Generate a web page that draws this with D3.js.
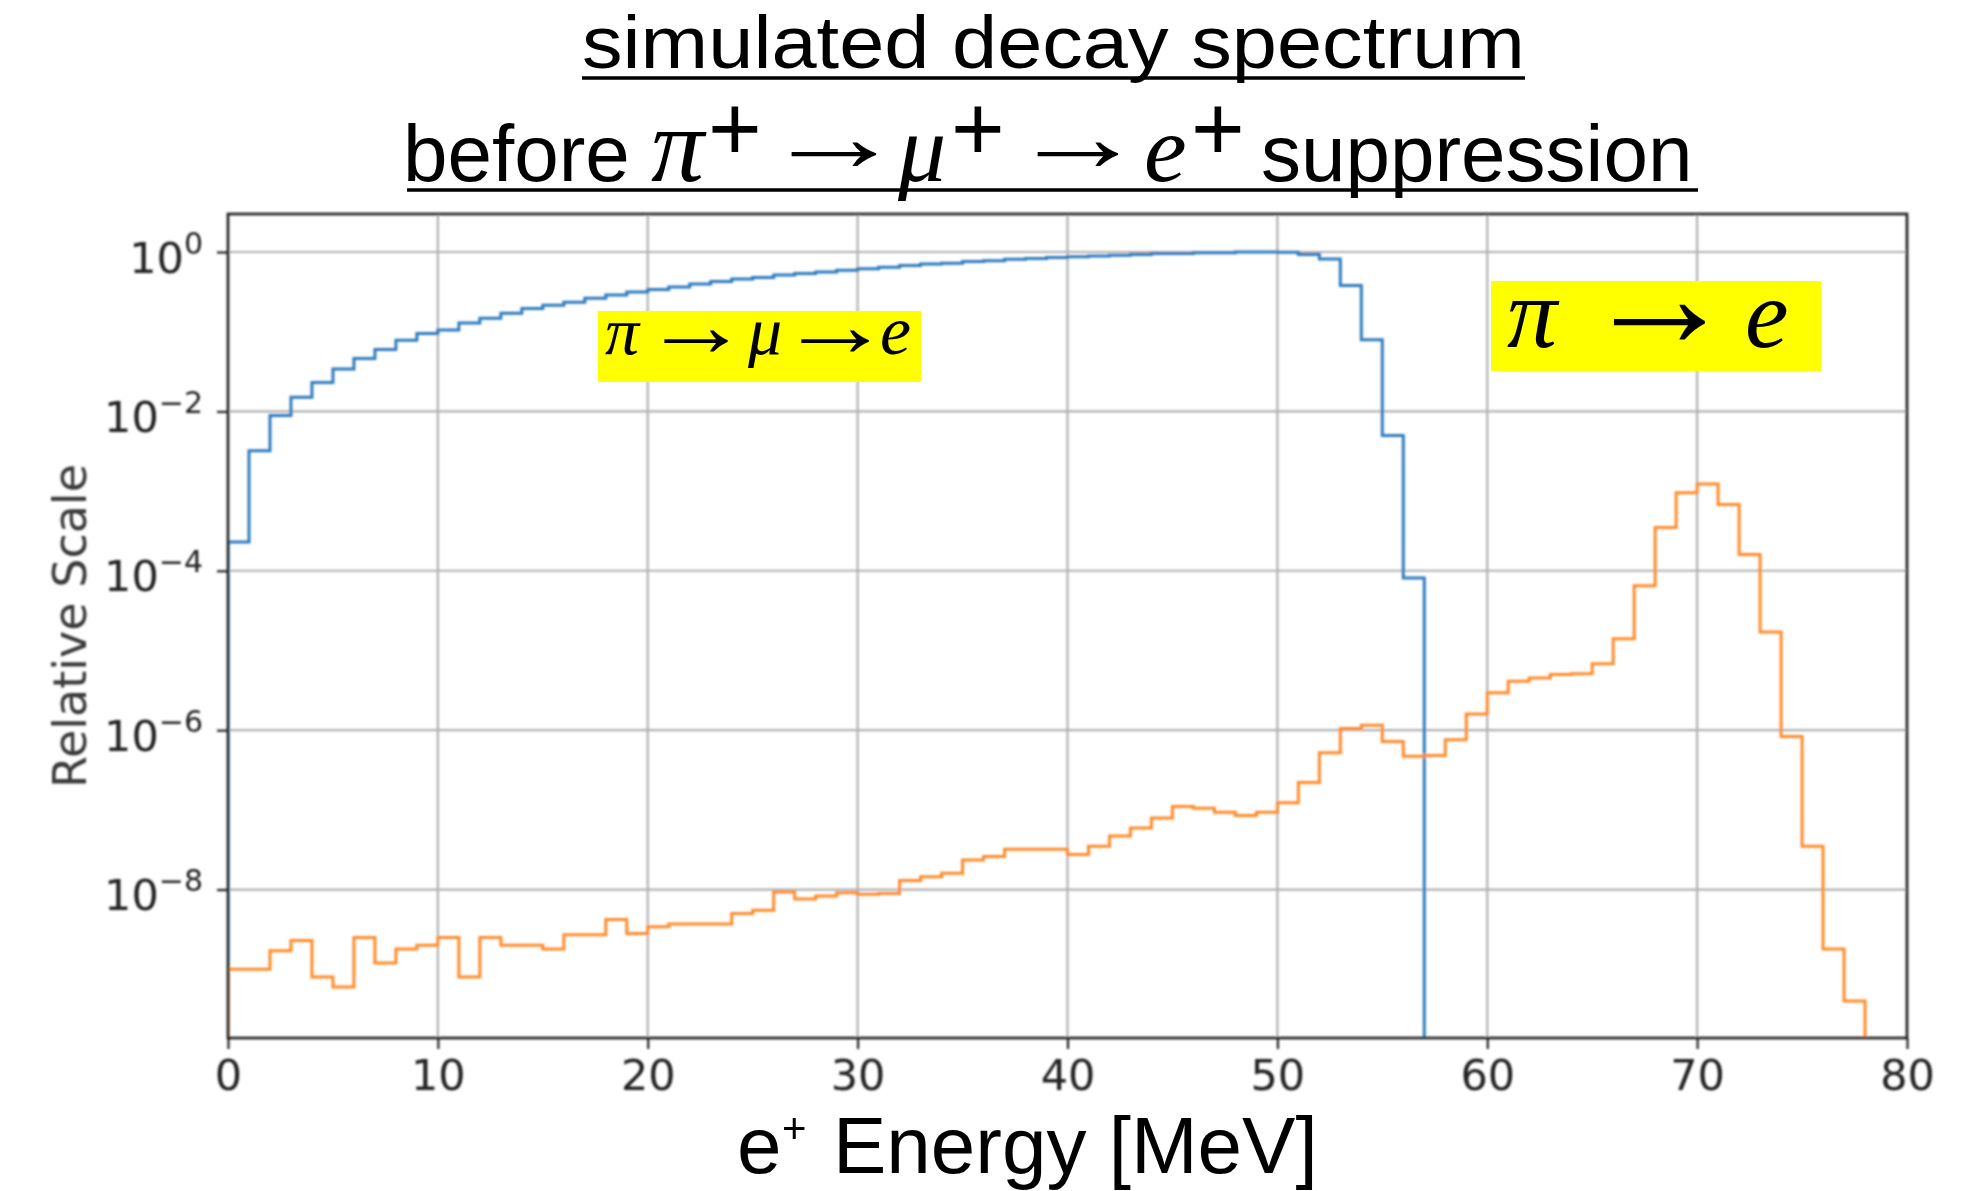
<!DOCTYPE html>
<html>
<head>
<meta charset="utf-8">
<script src="https://cdn.jsdelivr.net/npm/d3@7"></script>
<style>
  html, body { margin: 0; padding: 0; background: #ffffff; }
  svg { display: block; }
</style>
</head>
<body>
<svg id="chart" width="1983" height="1191"></svg>
<script>
// ---- data -------------------------------------------------------------
// 1 MeV wide bins starting at 0 MeV; values are relative counts per bin.
const binWidth = 1;

// pi -> mu -> e (Michel) spectrum, bins 0..56 MeV
const piMuEValues = [
  2.3e-4, 3.2e-3, 8.9e-3, 0.015, 0.023, 0.034, 0.046, 0.060, 0.078, 0.095,
  0.105, 0.129, 0.148, 0.170, 0.195, 0.214, 0.234, 0.263, 0.288, 0.316,
  0.339, 0.363, 0.398, 0.427, 0.457, 0.479, 0.513, 0.537, 0.562, 0.589,
  0.617, 0.646, 0.676, 0.708, 0.724, 0.759, 0.776, 0.813, 0.832, 0.851,
  0.871, 0.891, 0.912, 0.933, 0.955, 0.955, 0.977, 0.977, 1.0, 1.0,
  0.995, 0.93, 0.82, 0.38, 0.079, 0.005, 8.1e-5
];

// pi -> e spectrum, bins 0..77 MeV
const piEValues = [
  1.0e-9, 1.0e-9, 1.7e-9, 2.3e-9, 8.0e-10, 6.0e-10, 2.5e-9, 1.2e-9, 1.8e-9, 2.0e-9,
  2.5e-9, 8.0e-10, 2.5e-9, 2.0e-9, 2.0e-9, 1.8e-9, 2.7e-9, 2.7e-9, 4.2e-9, 2.8e-9,
  3.4e-9, 3.7e-9, 3.7e-9, 3.7e-9, 5.0e-9, 5.5e-9, 9.3e-9, 7.6e-9, 8.3e-9, 9.1e-9,
  8.7e-9, 8.9e-9, 1.3e-8, 1.45e-8, 1.6e-8, 2.35e-8, 2.6e-8, 3.2e-8, 3.2e-8, 3.2e-8,
  2.75e-8, 3.5e-8, 4.7e-8, 5.9e-8, 7.9e-8, 1.1e-7, 1.05e-7, 9.3e-8, 8.5e-8, 9.3e-8,
  1.23e-7, 2.2e-7, 5.2e-7, 1.05e-6, 1.15e-6, 7.2e-7, 4.7e-7, 4.8e-7, 7.6e-7, 1.6e-6,
  2.95e-6, 4.1e-6, 4.5e-6, 5.0e-6, 5.1e-6, 6.8e-6, 1.4e-5, 6.5e-5, 3.5e-4, 9.5e-4,
  1.23e-3, 6.8e-4, 1.6e-4, 1.7e-5, 8.3e-7, 3.5e-8, 1.8e-9, 4.0e-10
];

const xTickValues = [0, 10, 20, 30, 40, 50, 60, 70, 80];
const yTickValues = [1, 1e-2, 1e-4, 1e-6, 1e-8];

const titleLine1 = "simulated decay spectrum";
const yAxisLabel = "Relative Scale";

// ---- layout -----------------------------------------------------------
const plot = { left: 228, right: 1907, top: 214, bottom: 1038 };
const SANS = "'Liberation Sans', Arial, Helvetica, sans-serif";
const SERIF = "'Liberation Serif', 'Times New Roman', 'DejaVu Serif', serif";
const MPL = "'DejaVu Sans', sans-serif";

const svg = d3.select("#chart");

const defs = svg.append("defs");
defs.append("clipPath").attr("id", "plot-clip")
  .append("rect")
  .attr("x", plot.left).attr("y", plot.top)
  .attr("width", plot.right - plot.left).attr("height", plot.bottom - plot.top);
defs.append("filter").attr("id", "soft")
  .attr("x", "-5%").attr("y", "-5%").attr("width", "110%").attr("height", "110%")
  .append("feGaussianBlur").attr("stdDeviation", 0.8);

const x = d3.scaleLinear().domain([0, 80]).range([plot.left, plot.right]);
const y = d3.scaleLog()
  .domain([Math.pow(10, -9.863), Math.pow(10, 0.477)])
  .range([plot.bottom, plot.top]);

const chart = svg.append("g").attr("filter", "url(#soft)");

// grid
chart.append("g").selectAll("line").data(xTickValues).join("line")
  .attr("x1", d => x(d)).attr("x2", d => x(d))
  .attr("y1", plot.top).attr("y2", plot.bottom)
  .attr("stroke", "#b0b0b0").attr("stroke-width", 2.2);
chart.append("g").selectAll("line").data(yTickValues).join("line")
  .attr("x1", plot.left).attr("x2", plot.right)
  .attr("y1", d => y(d)).attr("y2", d => y(d))
  .attr("stroke", "#b0b0b0").attr("stroke-width", 2.2);

// step histograms (outline drawn down to the axis floor at both ends)
function stepPoints(values) {
  const floor = y.domain()[0] / 10;
  const pts = [[0, floor]];
  values.forEach((v, i) => pts.push([i * binWidth, v]));
  pts.push([values.length * binWidth, values[values.length - 1]]);
  pts.push([values.length * binWidth, floor]);
  return pts;
}
const stepLine = d3.line()
  .x(d => x(d[0]))
  .y(d => y(d[1]))
  .curve(d3.curveStepAfter);

const curves = chart.append("g").attr("clip-path", "url(#plot-clip)");
curves.append("path")
  .attr("d", stepLine(stepPoints(piMuEValues)))
  .attr("fill", "none").attr("stroke", "#2f7bbf").attr("stroke-width", 3);
curves.append("path")
  .attr("d", stepLine(stepPoints(piEValues)))
  .attr("fill", "none").attr("stroke", "#ff8a2a").attr("stroke-width", 3);

// axes
const xAxis = d3.axisBottom(x).tickValues(xTickValues).tickSizeInner(11).tickSizeOuter(0)
  .tickFormat(d3.format("d"));
const gx = chart.append("g").attr("transform", `translate(0,${plot.bottom})`).call(xAxis);
gx.select(".domain").remove();
gx.selectAll(".tick line").attr("stroke", "#222").attr("stroke-width", 2.2);
gx.selectAll(".tick text")
  .attr("y", 52).attr("dy", 0)
  .attr("font-family", MPL).attr("font-size", 43).attr("fill", "#222");

const yAxis = d3.axisLeft(y).tickValues(yTickValues).tickSizeInner(11).tickSizeOuter(0)
  .tickFormat(() => "");
const gy = chart.append("g").attr("transform", `translate(${plot.left},0)`).call(yAxis);
gy.select(".domain").remove();
gy.selectAll(".tick line").attr("stroke", "#222").attr("stroke-width", 2.2);
gy.selectAll(".tick text").each(function (d) {
  const t = d3.select(this)
    .attr("x", -25).attr("dy", 0).attr("y", 20)
    .attr("text-anchor", "end")
    .attr("font-family", MPL).attr("font-size", 43).attr("fill", "#222");
  const e = Math.round(Math.log10(d));
  t.append("tspan").text("10");
  t.append("tspan").attr("dy", -19).attr("font-size", 30)
    .text(e < 0 ? "\u2212" + Math.abs(e) : String(e));
});

// frame
chart.append("rect")
  .attr("x", plot.left).attr("y", plot.top)
  .attr("width", plot.right - plot.left).attr("height", plot.bottom - plot.top)
  .attr("fill", "none").attr("stroke", "#1c1c1c").attr("stroke-width", 2.6);

// y label
chart.append("text")
  .attr("transform", `translate(86,626) rotate(-90)`)
  .attr("text-anchor", "middle")
  .attr("font-family", MPL).attr("font-size", 46).attr("fill", "#3a3a3a")
  .text(yAxisLabel);

// ---- formula text -------------------------------------------------------
// One <text> per formula; every piece is a tspan placed at its own x/y so
// math symbols, arrows and raised "+" signs can be sized independently.
// Arrows are stretched horizontally (textLength) to the long math-arrow look;
// for them x is where the arrow's ink starts and inkWidth its drawn length.
const ARROW_INK_OFFSET = 0.19;  // ink start, in em of the arrow glyph
const ARROW_INK_WIDTH = 0.56;   // ink length, in em of the arrow glyph

function formula(parent, pieces) {
  const t = parent.append("text").attr("fill", "#000");
  pieces.forEach(p => {
    const fam = p.family || SANS;
    const s = t.append("tspan")
      .attr("x", p.x).attr("y", p.y)
      .attr("font-family", fam)
      .attr("font-size", p.size)
      .attr("font-style", p.italic ? "italic" : "normal")
      .text(p.text);
    if (p.inkWidth) {
      const probe = parent.append("text")
        .attr("font-family", fam).attr("font-size", p.size).text(p.text);
      const adv = probe.node().getComputedTextLength();
      probe.remove();
      const k = p.inkWidth / (ARROW_INK_WIDTH * p.size);
      s.attr("textLength", adv * k).attr("lengthAdjust", "spacingAndGlyphs")
        .attr("x", p.x - ARROW_INK_OFFSET * p.size * k);
    }
  });
  return t;
}
function underline(parent, x1, x2, yLine) {
  parent.append("line")
    .attr("x1", x1).attr("x2", x2).attr("y1", yLine).attr("y2", yLine)
    .attr("stroke", "#000").attr("stroke-width", 3.6);
}

// ---- titles -------------------------------------------------------------
const titles = svg.append("g");
titles.append("text")
  .attr("x", 582).attr("y", 68)
  .attr("font-family", SANS).attr("font-size", 74).attr("fill", "#000")
  .attr("textLength", 943).attr("lengthAdjust", "spacingAndGlyphs")
  .text(titleLine1);
underline(titles, 582, 1525, 78);

const base2 = 181, sup2 = 160, arrow2 = 171;
formula(titles, [
  { text: "before", x: 403, y: base2, size: 80 },
  { text: "\u03C0", x: 651, y: base2, size: 106, family: SERIF, italic: true },
  { text: "+", x: 708, y: sup2, size: 92 },
  { text: "\u2192", x: 790, y: arrow2, size: 100, family: SERIF, inkWidth: 80 },
  { text: "\u03BC", x: 898, y: base2, size: 96, family: SERIF, italic: true },
  { text: "+", x: 951, y: sup2, size: 92 },
  { text: "\u2192", x: 1036, y: arrow2, size: 100, family: SERIF, inkWidth: 76 },
  { text: "e", x: 1144, y: base2, size: 96, family: SERIF, italic: true },
  { text: "+", x: 1191, y: sup2, size: 92 },
  { text: "suppression", x: 1261, y: base2, size: 80 }
]);
underline(titles, 407, 1698, 190);

// ---- annotation boxes ---------------------------------------------------
const notes = svg.append("g");
notes.append("rect").attr("x", 598).attr("y", 311).attr("width", 323).attr("height", 71)
  .attr("fill", "#ffff00");
formula(notes, [
  { text: "\u03C0", x: 605, y: 354, size: 68, family: SERIF, italic: true },
  { text: "\u2192", x: 663, y: 356, size: 90, family: SERIF, inkWidth: 60 },
  { text: "\u03BC", x: 748, y: 354, size: 68, family: SERIF, italic: true },
  { text: "\u2192", x: 800, y: 356, size: 90, family: SERIF, inkWidth: 64 },
  { text: "e", x: 880, y: 354, size: 70, family: SERIF, italic: true }
]);

notes.append("rect").attr("x", 1491).attr("y", 281).attr("width", 330).attr("height", 90)
  .attr("fill", "#ffff00");
formula(notes, [
  { text: "\u03C0", x: 1507, y: 347, size: 100, family: SERIF, italic: true },
  { text: "\u2192", x: 1612, y: 347, size: 148, family: SERIF, inkWidth: 86 },
  { text: "e", x: 1745, y: 347, size: 98, family: SERIF, italic: true }
]);

// ---- x axis label -------------------------------------------------------
formula(svg.append("g"), [
  { text: "e", x: 737, y: 1173, size: 80 },
  { text: "+", x: 782, y: 1143, size: 42 },
  { text: "Energy [MeV]", x: 833, y: 1173, size: 80 }
]);
</script>
</body>
</html>
